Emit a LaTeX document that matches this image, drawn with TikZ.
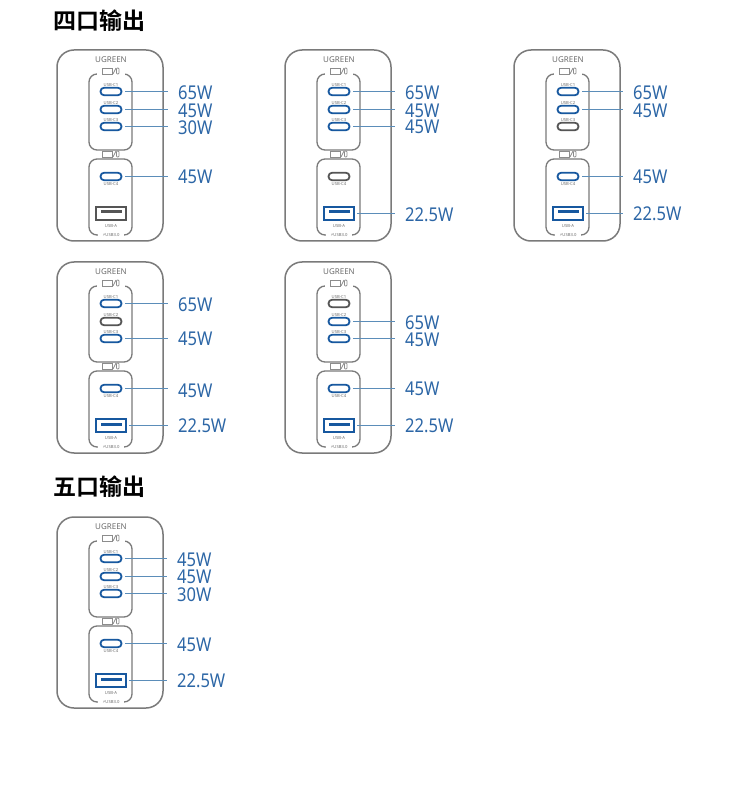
\documentclass[tikz,border=0pt]{standalone}
\usepackage{fontspec}
\setmainfont{Noto Sans}
\newfontfamily\cjkhead[BoldFont={Noto Sans CJK SC Bold}]{Noto Sans CJK SC}
\newfontfamily\wattfont[FakeStretch=0.87]{Noto Sans}
\newfontfamily\symfont{DejaVu Sans}
\definecolor{framegray}{HTML}{7A7A7A}
\definecolor{portblue}{HTML}{17589F}
\definecolor{portgray}{HTML}{555555}
\definecolor{lineblue}{HTML}{5B8DB9}
\definecolor{wattblue}{HTML}{2C66A6}
\definecolor{tinygray}{HTML}{6E6E6E}
\definecolor{icongray}{HTML}{8C8C8C}
\tikzset{
  x=1pt,y=-1pt,
  shellbox/.style={draw=framegray,line width=1.5pt,rounded corners=17pt},
  bayline/.style={draw=framegray,line width=1.3pt,rounded corners=8pt},
  cportbox/.style={draw=#1,line width=1.8pt,fill=white,rounded corners=3.6pt,minimum width=21pt,minimum height=7.5pt,inner sep=0pt,outer sep=0pt},
  aportbox/.style={draw=#1,line width=1.7pt,fill=white,minimum width=29.5pt,minimum height=13.5pt,inner sep=0pt,outer sep=0pt},
  tinytext/.style={text=tinygray,inner sep=0pt,font=\fontsize{4.2}{5}\selectfont\bfseries},
  brand/.style={text=tinygray,inner sep=0pt,font=\fontsize{8}{9}\selectfont\bfseries},
  wattlabel/.style={text=wattblue,anchor=west,inner sep=0pt,font=\fontsize{19}{20}\wattfont},
  wattline/.style={draw=lineblue,line width=1.5pt,shorten <=3.5pt,shorten >=10pt},
  headtext/.style={anchor=west,inner sep=0pt,font=\fontsize{23}{24}\cjkhead\bfseries},
  iconline/.style={draw=icongray,line width=0.7pt}
}
\newcommand\deviceicon[2]{%
  \draw[iconline] (#1,#2) rectangle ++(10,6);
  \draw[iconline] (#1+11,#2+6) -- ++(3,-6);
  \draw[iconline,rounded corners=0.8pt] (#1+14.5,#2) rectangle ++(2.5,6);
}
\newcommand\shell[3]{%
  \begin{scope}[shift={(#2,#3)}]
    \draw[shellbox] (0,0) rectangle (106,191);
    \node[brand] (#1-brand) at (54,10) {UGREEN};
    \draw[bayline] (32,24) rectangle (75,100);
    \fill[white] (40,20) rectangle (68,28);
    \deviceicon{45}{18}
    \draw[bayline] (32,109) rectangle (75,185);
    \fill[white] (41,181) rectangle (67,189);
    \deviceicon{45}{101}
    \node[tinytext] (#1-usb3) at (54,184.5) {{\symfont\char"26A1}USB3.0};
  \end{scope}
}
\newcommand\cport[6]{%
  \node[cportbox=#5] (#1-#2) at (#3,#4) {};
  \node[tinytext] (#1-#2-cap) at (#3,#4-6.5) {#6};
}
\newcommand\cportb[6]{%
  \node[cportbox=#5] (#1-#2) at (#3,#4) {};
  \node[tinytext] (#1-#2-cap) at (#3,#4+7.5) {#6};
}
\newcommand\aport[5]{%
  \node[aportbox=#4] (#1-#2) at (#3) {};
  \fill[#4] ($(#1-#2.center)+(-10.5,-3)$) rectangle ($(#1-#2.center)+(10.5,0)$);
  \node[tinytext] (#1-#2-cap) at ($(#1-#2.center)+(0,12.5)$) {#5};
}
\newcommand\portset[8]{%
  \cport{#1}{c1}{#2+54}{#3+41.5}{#4}{USB-C1}
  \cport{#1}{c2}{#2+54}{#3+59.5}{#5}{USB-C2}
  \cport{#1}{c3}{#2+54}{#3+76.5}{#6}{USB-C3}
  \cportb{#1}{c4}{#2+54}{#3+126.5}{#7}{USB-C4}
  \aport{#1}{a}{#2+54,#3+163.5}{#8}{USB-A}
}
\newcommand\watt[5]{%
  \node[wattlabel] (#2) at (#3,#4) {#5};
  \draw[wattline] (#1.east) -- (#1.east -| #2.west);
}
\usetikzlibrary{calc}
\begin{document}
\begin{tikzpicture}
\useasboundingbox (0,0) rectangle (750,791);
\fill[white] (0,0) rectangle (750,791);
\node[headtext] (headfour) at (53,21) {四口输出};
\node[headtext] (headfive) at (53,487) {五口输出};

\shell{a}{57}{50}
\portset{a}{57}{50}{portblue}{portblue}{portblue}{portblue}{portgray}
\watt{a-c1}{a1}{178}{93}{65W}
\watt{a-c2}{a2}{178}{111}{45W}
\watt{a-c3}{a3}{178}{128}{30W}
\watt{a-c4}{a4}{178}{177}{45W}

\shell{b}{285}{50}
\portset{b}{285}{50}{portblue}{portblue}{portblue}{portgray}{portblue}
\watt{b-c1}{b1}{405}{93}{65W}
\watt{b-c2}{b2}{405}{111}{45W}
\watt{b-c3}{b3}{405}{127}{45W}
\watt{b-a}{b5}{405}{215}{22.5W}

\shell{c}{514}{50}
\portset{c}{514}{50}{portblue}{portblue}{portgray}{portblue}{portblue}
\watt{c-c1}{c1}{633}{93}{65W}
\watt{c-c2}{c2}{633}{111}{45W}
\watt{c-c4}{c4}{633}{177}{45W}
\watt{c-a}{c5}{633}{214}{22.5W}

\shell{d}{57}{262}
\portset{d}{57}{262}{portblue}{portgray}{portblue}{portblue}{portblue}
\watt{d-c1}{d1}{178}{305}{65W}
\watt{d-c3}{d3}{178}{339}{45W}
\watt{d-c4}{d4}{178}{391}{45W}
\watt{d-a}{d5}{178}{426}{22.5W}

\shell{e}{285}{262}
\portset{e}{285}{262}{portgray}{portblue}{portblue}{portblue}{portblue}
\watt{e-c2}{e2}{405}{323}{65W}
\watt{e-c3}{e3}{405}{340}{45W}
\watt{e-c4}{e4}{405}{389}{45W}
\watt{e-a}{e5}{405}{426}{22.5W}

\shell{f}{57}{517}
\portset{f}{57}{517}{portblue}{portblue}{portblue}{portblue}{portblue}
\watt{f-c1}{f1}{177}{560}{45W}
\watt{f-c2}{f2}{177}{577}{45W}
\watt{f-c3}{f3}{177}{595}{30W}
\watt{f-c4}{f4}{177}{645}{45W}
\watt{f-a}{f5}{177}{681}{22.5W}
\end{tikzpicture}
\end{document}
